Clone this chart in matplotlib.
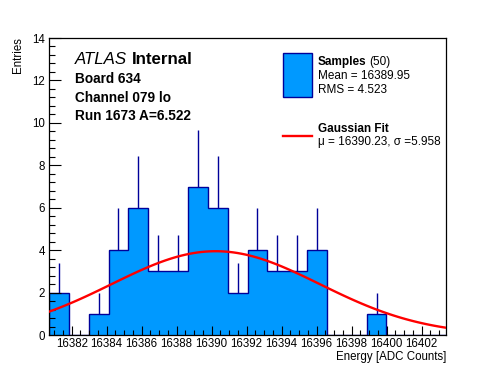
import numpy as np
import matplotlib
matplotlib.use("Agg")
import matplotlib.pyplot as plt
from matplotlib.patches import Rectangle
from matplotlib.lines import Line2D

plt.rcParams['font.family'] = ['Liberation Sans', 'DejaVu Sans']

# ---- data ----
bin_lo = 16380.7
bin_hi = 16403.4
n_bins = 20
counts = [2, 0, 1, 4, 6, 3, 3, 7, 6, 2, 4, 3, 3, 4, 0, 0, 1, 0, 0, 0]
fit_const = 3.95
fit_mu = 16390.23
fit_sigma = 5.958
x_ticks = [16382, 16384, 16386, 16388, 16390, 16392, 16394, 16396, 16398, 16400, 16402]
y_ticks = [0, 2, 4, 6, 8, 10, 12, 14]
n_entries = 50
mean_val = "16389.95"
rms_val = "4.523"

FILL = '#0099ff'
EDGE = '#000099'

W, H = 496, 372
fig = plt.figure(figsize=(W / 100, H / 100), dpi=100)
ax = fig.add_axes([49 / W, 1 - 335 / H, (446 - 49) / W, (335 - 38) / H])

edges = np.linspace(bin_lo, bin_hi, n_bins + 1)
cnt = np.array(counts, dtype=float)
centers = 0.5 * (edges[:-1] + edges[1:])

# error bars (behind fill)
nz = cnt > 0
err = np.sqrt(cnt[nz])
ax.errorbar(centers[nz], cnt[nz], yerr=err, fmt='none', ecolor=EDGE,
            elinewidth=1.0, capsize=0, zorder=0.8)
ax.stairs(cnt, edges, fill=True, color=FILL, zorder=1, linewidth=0)
ax.stairs(cnt, edges, baseline=0, fill=False, color=EDGE, linewidth=1.0, zorder=1.1)

# gaussian fit
xf = np.linspace(bin_lo, bin_hi, 100)
yf = fit_const * np.exp(-0.5 * ((xf - fit_mu) / fit_sigma) ** 2)
ax.plot(xf, yf, color='#ff0000', linewidth=1.7, zorder=3)

ax.set_xlim(bin_lo, bin_hi)
ax.set_ylim(0, 14)
ax.set_axisbelow(False)
ax.set_xticks(x_ticks)
ax.set_xticklabels([str(t) for t in x_ticks])
ax.set_xticks(np.arange(16381.0, 16403.5, 0.5), minor=True)
ax.set_yticks(y_ticks)
ax.set_yticklabels([str(t) for t in y_ticks])
ax.set_yticks(np.arange(0, 14.01, 0.4), minor=True)
ax.tick_params(axis='x', which='major', direction='in', length=6.5, width=0.8,
               labelsize=8.3, pad=2, top=False)
ax.tick_params(axis='x', which='minor', direction='in', length=3.4, width=0.8, top=False)
ax.tick_params(axis='y', which='major', direction='in', length=8.6, width=0.8,
               labelsize=8.3, pad=3, right=False)
ax.tick_params(axis='y', which='minor', direction='in', length=4.3, width=0.8, right=False)
for s in ax.spines.values():
    s.set_linewidth(0.9)

# axis titles
fig.text(446 / W, 1 - 357 / H, "Energy [ADC Counts]", ha='right', va='center', fontsize=8.3)
fig.text(18.5 / W, 1 - 37 / H, "Entries", ha='center', va='top', rotation=90, fontsize=8.3)

# labels
ta = fig.text(75 / W, 1 - 59 / H, "ATLAS", style='italic', fontsize=12.2, ha='left', va='center')
fig.canvas.draw()
ba = ta.get_window_extent()
fig.text((ba.x1 + 4.5) / W, 1 - 59 / H, "Internal", weight='bold', fontsize=12.2, ha='left', va='center')
fig.text(75 / W, 1 - 79 / H, "Board 634", weight='bold', fontsize=9.8, ha='left', va='center')
fig.text(75 / W, 1 - 98 / H, "Channel 079 lo", weight='bold', fontsize=9.8, ha='left', va='center')
fig.text(75 / W, 1 - 116 / H, "Run 1673 A=6.522", weight='bold', fontsize=9.8, ha='left', va='center')

# legend
fig.add_artist(Rectangle((283 / W, 1 - 97 / H), 29 / W, 44 / H, transform=fig.transFigure,
                         facecolor=FILL, edgecolor=EDGE, linewidth=1.0))
t1 = fig.text(318 / W, 1 - 62 / H, "Samples", weight='bold', fontsize=8.5, ha='left', va='center')
fig.canvas.draw()
bb = t1.get_window_extent()
fig.text((bb.x1 + 3) / W, 1 - 62 / H, "(%d)" % n_entries, fontsize=8.5, ha='left', va='center')
fig.text(318 / W, 1 - 76 / H, "Mean = " + mean_val, fontsize=8.5, ha='left', va='center')
fig.text(318 / W, 1 - 90 / H, "RMS = " + rms_val, fontsize=8.5, ha='left', va='center')
fig.add_artist(Line2D([283 / W, 312 / W], [1 - 136 / H, 1 - 136 / H], transform=fig.transFigure,
                      color='#ff0000', linewidth=1.7))
fig.text(318 / W, 1 - 129 / H, "Gaussian Fit", weight='bold', fontsize=8.5, ha='left', va='center')
fig.text(318 / W, 1 - 142 / H, "\u03bc = %.2f, \u03c3 =%.3f" % (fit_mu, fit_sigma),
         fontsize=8.5, ha='left', va='center')

fig.savefig("out.png", dpi=100, facecolor='white')
